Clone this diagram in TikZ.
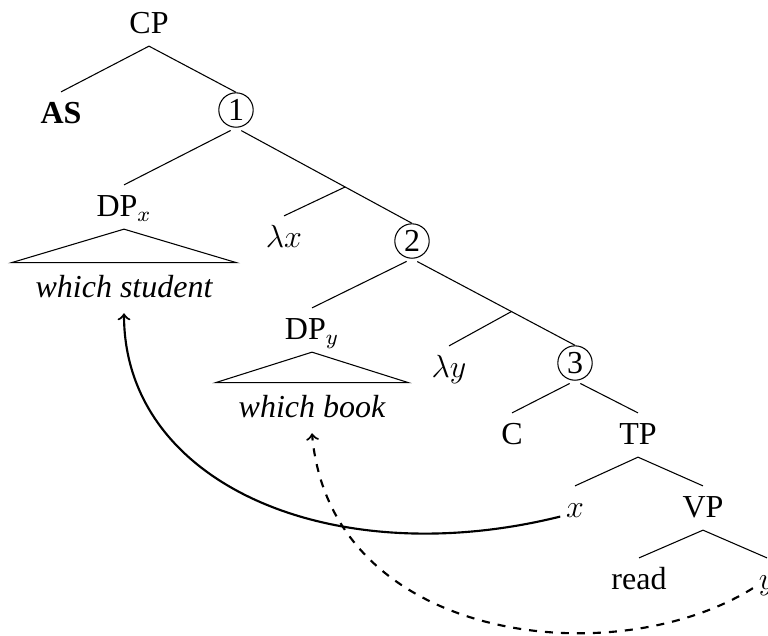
\documentclass[tikz,border=0pt]{standalone}
\usepackage{fontspec}
\setmainfont{Liberation Serif}
\usetikzlibrary{calc}
\newcommand{\drawmove}{\draw[thick, ->]}

\begin{document}
\begin{tikzpicture}[x=0.375pt, y=-0.375pt,
        every node/.style={font=\fontsize{12}{14}\selectfont},
        lbl/.style={inner xsep=2pt, inner ysep=3.7pt, text height=8pt, text depth=0.8pt},
        circ/.style={draw, circle, inner sep=0pt, minimum size=12.9pt},
        yield/.style={lbl, inner ysep=4.9pt, inner xsep=0pt, font=\fontsize{12}{14}\selectfont\itshape},
        fromcirc/.style={shorten <=2.25pt}]
        \useasboundingbox (0,0) rectangle (768,635);

        % Draw nodes
        \node[lbl] (cp) at (149,24) {CP};
        \node[lbl] (as) at (61,114) {\textbf{AS}};
        \node[circ] (n1) at (236,110) {1};
        \node[lbl] (dpx) at (124,207) {DP$_x$};
        \node[lbl] (lx) at (284,238) {$\lambda x$};
        \node[circ] (n2) at (412,241) {2};
        \node[yield, minimum width=84pt] (ws) at (124,288) {which student};
        \node[lbl] (dpy) at (312,330) {DP$_y$};
        \node[lbl] (ly) at (449,368) {$\lambda y$};
        \node[circ] (n3) at (575,363) {3};
        \node[yield, minimum width=72pt] (wb) at (312,408) {which book};
        \node[lbl] (c) at (512,435) {C};
        \node[lbl] (tp) at (638,435) {TP};
        \node[lbl] (tx) at (575,508) {$x$};
        \node[lbl] (vp) at (703,508) {VP};
        \node[lbl] (rd) at (639,580) {read};
        \node[lbl] (ty) at (767,580) {$y$};

        \coordinate (m1) at ($(n1.south)!0.62!(n2.north)$);
        \coordinate (m2) at ($(n2.south)!0.61!(n3.north)$);

        % Draw branches
        \draw (cp.south) -- (as.north);
        \draw (cp.south) -- (n1.north);
        \draw[fromcirc] (n1.south) -- (dpx.north);
        \draw[fromcirc] (n1.south) -- (n2.north);
        \draw (m1) -- (lx.north);
        \draw[fromcirc] (n2.south) -- (dpy.north);
        \draw[fromcirc] (n2.south) -- (n3.north);
        \draw (m2) -- (ly.north);
        \draw[fromcirc] (n3.south) -- (c.north);
        \draw[fromcirc] (n3.south) -- (tp.north);
        \draw (tp.south) -- (tx.north);
        \draw (tp.south) -- (vp.north);
        \draw (vp.south) -- (rd.north);
        \draw (vp.south) -- (ty.north);

        % Draw triangles
        \draw (dpx.south) -- (ws.north west) -- (ws.north east) -- cycle;
        \draw (dpy.south) -- (wb.north west) -- (wb.north east) -- cycle;

        % Draw movement
        \drawmove (tx.210) to[out=194, in=-90, out looseness=1.24, in looseness=0.91] (ws.south);
        \drawmove[dashed] (ty.210) to[out=212, in=-85, out looseness=0.9, in looseness=1.15] (wb.south);
\end{tikzpicture}
\end{document}
